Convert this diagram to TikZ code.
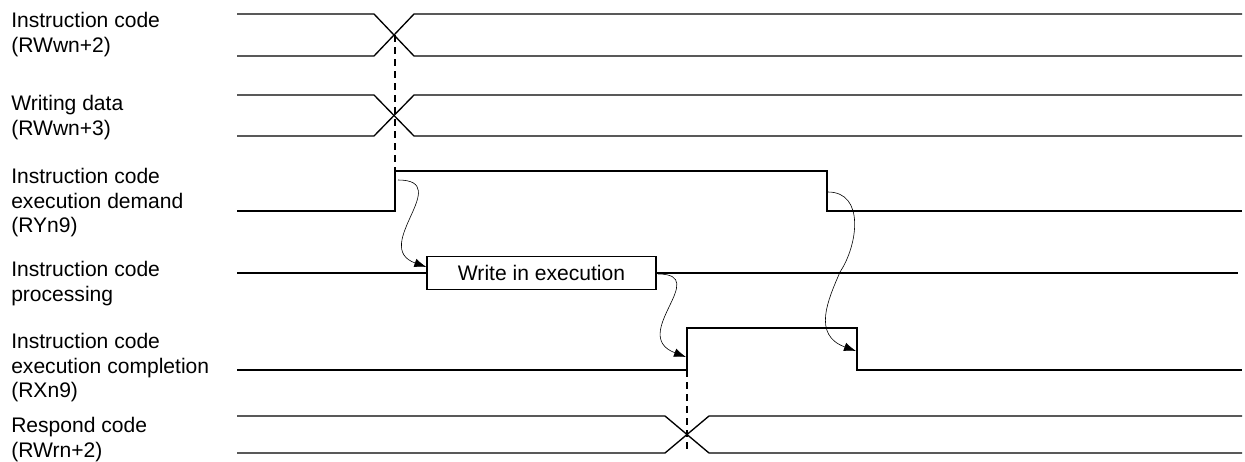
\documentclass[tikz,border=0pt]{standalone}
\usepackage{fontspec}
\setmainfont{Liberation Sans}
\usetikzlibrary{arrows.meta,positioning}
\tikzset{
  lbl/.style={anchor=north west, align=left, inner sep=0pt, font=\fontsize{15.8}{18.4}\selectfont},
  sig/.style={line width=1pt, line join=miter},
  busy/.style={line width=1.7pt},
  evt/.style={draw, line width=1pt, inner sep=0pt, minimum width=171.75pt, minimum height=24.75pt, font=\fontsize{15.8}{18.4}\selectfont},
  guide/.style={line width=0.8pt, dash pattern=on 5.5pt off 3.5pt},
  cause/.style={-{Latex[length=9pt,width=6.5pt]}, line width=0.45pt},
}
\begin{document}
\begin{tikzpicture}[x=0.75pt,y=-0.75pt]
  \useasboundingbox (0,0) rectangle (1245,461);
  % signal names
  \foreach \y/\n/\txt in {12/lcode/{Instruction code\\(RWwn+2)},95/ldata/{Writing data\\(RWwn+3)},168/ldemand/{Instruction code\\execution demand\\(RYn9)},261/lproc/{Instruction code\\processing},333/ldone/{Instruction code\\execution completion\\(RXn9)},417/lresp/{Respond code\\(RWrn+2)}}
    { \node[lbl] (\n) at (11,\y) {\txt}; }
  % word signals with change-over
  \foreach \ya/\yb/\xc/\w in {14/56/394/20,95/136/394/20,416/453/687/22}
    { \draw[sig] (237,\ya) -- (\xc-\w,\ya) -- (\xc+\w,\yb) -- (1242,\yb);
      \draw[sig] (237,\yb) -- (\xc-\w,\yb) -- (\xc+\w,\ya) -- (1242,\ya); }
  % bit signals
  \draw[sig] (237,211) -- (395,211) -- (395,171) -- (827,171) -- (827,211) -- (1242,211);
  \draw[sig] (237,370) -- (687,370) -- (687,328) -- (857,328) -- (857,370) -- (1242,370);
  % processing
  \node[evt] (wrx) at (541.5,273) {Write in execution};
  \coordinate (procin) at (237,273);
  \coordinate (procout) at (1238,273);
  \draw[busy] (procin) -- (wrx.west);
  \draw[busy] (wrx.east) -- (procout);
  % timing guides
  \coordinate (xcode) at (395,35);
  \coordinate (dmdon) at (395,171);
  \coordinate (doneon) at (687,370);
  \coordinate (xresp) at (687,449);
  \draw[guide] (xcode) -- (dmdon);
  \draw[guide] (doneon) -- (xresp);
  % cause and effect
  \coordinate (dmdup) at (398,180);
  \coordinate (dmdoff) at (828,192);
  \coordinate (wrxend) at (658,274);
  \coordinate (doneup) at (686,357);
  \coordinate (donedn) at (856,351);
  \draw[cause] (dmdup) .. controls (455,180) and (370,247) .. (wrx.177);
  \draw[cause] (wrxend) .. controls (712,274) and (628,335) .. (doneup);
  \draw[cause] (dmdoff) .. controls (865,192) and (858,245) .. (840,272) .. controls (828,300) and (812,335) .. (donedn);
\end{tikzpicture}
\end{document}
